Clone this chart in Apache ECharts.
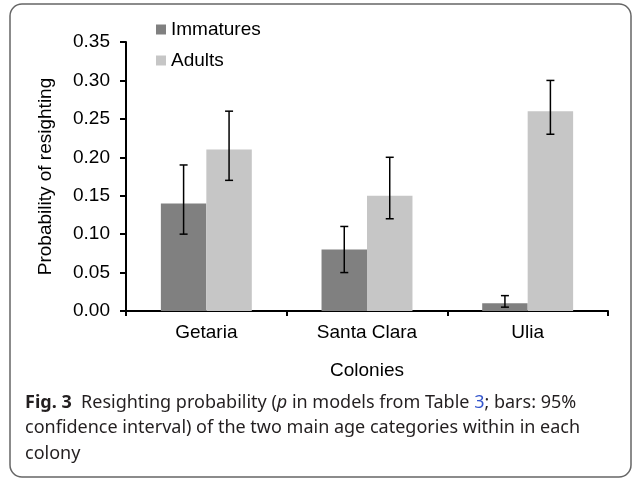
<!DOCTYPE html>
<html><head><meta charset="utf-8">
<script src="https://cdn.jsdelivr.net/npm/echarts@6/dist/echarts.min.js"></script>
<style>html,body{margin:0;padding:0;background:#fff}#c{width:632px;height:480px}</style>
</head><body><div id="c"></div>
<script>
const categories = ['Getaria', 'Santa Clara', 'Ulia'];
const seriesNames = ['Immatures', 'Adults'];
const immatures = [0.14, 0.08, 0.01];
const immaturesLow = [0.10, 0.05, 0.005];
const immaturesHigh = [0.19, 0.11, 0.02];
const adults = [0.21, 0.15, 0.26];
const adultsLow = [0.17, 0.12, 0.23];
const adultsHigh = [0.26, 0.20, 0.30];
const yTicks = ['0.00','0.05','0.10','0.15','0.20','0.25','0.30','0.35'];

const BARFRAC = 0.283;
const font = 'Liberation Sans, Arial, sans-serif';
const FS = 19;

function errData(low, high) { return categories.map((c, i) => [i, low[i], high[i]]); }
function errSeries(low, high, side) {
  return {
    type: 'custom', silent: true, z: 10,
    data: errData(low, high),
    encode: { x: 0, y: [1, 2] },
    renderItem: function (params, api) {
      const i = api.value(0);
      const catW = api.size([1, 0])[0];
      const off = side * 0.5 * BARFRAC * catW;
      const lo = api.coord([i, api.value(1)]);
      const hi = api.coord([i, api.value(2)]);
      const x = lo[0] + off;
      const cap = 4;
      const st = { stroke: '#000', lineWidth: 1.5 };
      return { type: 'group', children: [
        { type: 'line', shape: { x1: x, y1: lo[1], x2: x, y2: hi[1] }, style: st },
        { type: 'line', shape: { x1: x - cap, y1: lo[1], x2: x + cap, y2: lo[1] }, style: st },
        { type: 'line', shape: { x1: x - cap, y1: hi[1], x2: x + cap, y2: hi[1] }, style: st }
      ]};
    }
  };
}

const chart = echarts.init(document.getElementById('c'));
chart.setOption({
  animation: false,
  textStyle: { fontFamily: font },
  grid: { left: 126, right: 24, top: 42, bottom: 169, containLabel: false },
  legend: {
    data: seriesNames, orient: 'vertical', left: 156, top: 20, padding: 0,
    itemWidth: 10, itemHeight: 10, itemGap: 12, icon: 'rect',
    textStyle: { fontSize: FS, color: '#000', fontFamily: font }
  },
  xAxis: {
    type: 'category', data: categories,
    name: 'Colonies', nameLocation: 'middle', nameGap: 50,
    nameTextStyle: { fontSize: FS, color: '#000' },
    axisLine: { lineStyle: { color: '#000', width: 2 } },
    axisTick: { show: true, length: 5, lineStyle: { color: '#000', width: 2 } },
    axisLabel: { fontSize: FS, color: '#000', margin: 12 }
  },
  yAxis: {
    type: 'value', min: 0, max: 0.35, interval: 0.05,
    name: 'Probability of resighting', nameLocation: 'middle', nameGap: 71,
    nameTextStyle: { fontSize: FS, color: '#000' },
    axisLine: { show: true, lineStyle: { color: '#000', width: 2 } },
    axisTick: { show: true, length: 6, lineStyle: { color: '#000', width: 2 } },
    splitLine: { show: false },
    axisLabel: { fontSize: FS, color: '#000', margin: 16, formatter: (v) => yTicks[Math.round(v / 0.05)] }
  },
  series: [
    { name: 'Immatures', type: 'bar', data: immatures, barWidth: (BARFRAC * 100) + '%', barGap: '0%',
      itemStyle: { color: '#808080' } },
    { name: 'Adults', type: 'bar', data: adults, barWidth: (BARFRAC * 100) + '%', barGap: '0%',
      itemStyle: { color: '#c6c6c6' } },
    errSeries(immaturesLow, immaturesHigh, -1),
    errSeries(adultsLow, adultsHigh, 1)
  ],
  graphic: [
    { type: 'rect', shape: { x: 10, y: 4, width: 621, height: 473, r: 12 },
      style: { fill: 'none', stroke: '#666', lineWidth: 1.5 }, z: -1 },
    { type: 'text', left: 25, top: 390, style: {
      text: '{b|Fig. 3}  Resighting probability ({i|p} in models from Table {l|3}; bars: 95%\nconfidence interval) of the two main age categories within in each\ncolony',
      font: '18px "Noto Sans"', fill: '#231f20', lineHeight: 25.5,
      rich: {
        b: { fontWeight: 'bold', fontSize: 18, fontFamily: 'Noto Sans', fill: '#231f20' },
        i: { fontStyle: 'italic', fontSize: 18, fontFamily: 'Noto Sans', fill: '#231f20' },
        l: { fontSize: 18, fontFamily: 'Noto Sans', fill: '#3355cc' }
      }
    } }
  ]
});
</script></body></html>
